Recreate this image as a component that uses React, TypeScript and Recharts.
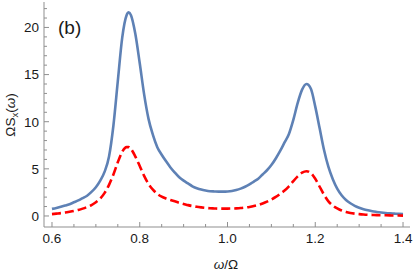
import React from 'react';
import { LineChart, Line, XAxis, YAxis } from 'recharts';

const omega = [
  0.6, 0.61, 0.62, 0.63, 0.64, 0.65, 0.66, 0.67, 0.68, 0.69,
  0.7, 0.71, 0.72, 0.73, 0.74, 0.75, 0.76, 0.77, 0.775, 0.78, 0.79,
  0.8, 0.81, 0.82, 0.83, 0.84, 0.85, 0.86, 0.87, 0.88, 0.89,
  0.9, 0.91, 0.92, 0.93, 0.94, 0.95, 0.96, 0.97, 0.98, 0.99,
  1.0, 1.01, 1.02, 1.03, 1.04, 1.05, 1.06, 1.07, 1.08, 1.09,
  1.1, 1.11, 1.12, 1.13, 1.14, 1.15, 1.16, 1.17, 1.18, 1.19,
  1.2, 1.21, 1.22, 1.23, 1.24, 1.25, 1.26, 1.27, 1.28, 1.29,
  1.3, 1.31, 1.32, 1.33, 1.34, 1.35, 1.36, 1.37, 1.38, 1.39, 1.4,
];

const blueSpectrum = [
  0.75, 0.85, 0.97, 1.1, 1.25, 1.45, 1.65, 1.9, 2.15, 2.55,
  3.05, 3.75, 4.7, 6.3, 9.6, 14.3, 18.9, 21.3, 21.6, 21.3, 19.3,
  16.2, 12.9, 10.3, 8.6, 7.3, 6.5, 5.8, 5.15, 4.6, 4.1,
  3.75, 3.45, 3.15, 2.95, 2.8, 2.7, 2.63, 2.6, 2.58, 2.58,
  2.6, 2.65, 2.75, 2.9, 3.1, 3.35, 3.65, 3.95, 4.4, 4.85,
  5.4, 6.1, 6.9, 7.8, 8.7, 10.2, 12.0, 13.4, 14.0, 13.5,
  11.6, 9.3, 7.0, 5.2, 3.9, 2.9, 2.2, 1.7, 1.35, 1.08,
  0.88, 0.72, 0.6, 0.5, 0.43, 0.37, 0.32, 0.28, 0.25, 0.22, 0.2,
];

const redSpectrum = [
  0.2, 0.25, 0.3, 0.36, 0.44, 0.53, 0.64, 0.78, 0.95, 1.15,
  1.45, 1.85, 2.45, 3.3, 4.4, 5.7, 6.8, 7.3, 7.3, 7.1, 6.3,
  5.3, 4.25, 3.4, 2.8, 2.35, 2.05, 1.85, 1.7, 1.55, 1.4,
  1.28, 1.15, 1.05, 0.97, 0.91, 0.86, 0.82, 0.8, 0.78, 0.78,
  0.78, 0.79, 0.81, 0.84, 0.89, 0.96, 1.05, 1.17, 1.33, 1.52,
  1.75, 2.02, 2.35, 2.7, 3.15, 3.7, 4.2, 4.6, 4.75, 4.55,
  3.95, 3.1, 2.25, 1.55, 1.1, 0.8, 0.58, 0.43, 0.32, 0.25,
  0.2, 0.16, 0.13, 0.11, 0.09, 0.08, 0.07, 0.06, 0.05, 0.05, 0.04,
];

const xTicks = [
  0.6, 0.65, 0.7, 0.75, 0.8, 0.85, 0.9, 0.95, 1.0, 1.05,
  1.1, 1.15, 1.2, 1.25, 1.3, 1.35, 1.4,
];
const yTicks = [
  0, 1, 2, 3, 4, 5, 6, 7, 8, 9, 10, 11, 12, 13, 14, 15, 16, 17, 18, 19, 20, 21, 22,
];

const data = omega.map((w, i) => ({ w, blue: blueSpectrum[i], red: redSpectrum[i] }));

const FRAME = '#8f8f8f';
const TEXT = '#1a1a1a';
const FONT = '"Liberation Sans", Arial, sans-serif';

const isMajorX = (v: number) => Math.abs(v * 5 - Math.round(v * 5)) < 1e-6;
const isMajorY = (v: number) => v % 5 === 0;

const BottomTick = (props: any) => {
  const { x, y, payload } = props;
  const v = payload.value as number;
  const major = isMajorX(v);
  return (
    <g>
      <line x1={x} y1={y} x2={x} y2={y - (major ? 5 : 3)} stroke={FRAME} strokeWidth={1} />
      {major && (
        <text x={x} y={y + 16} textAnchor="middle" fontSize={13.5} fontFamily={FONT} fill={TEXT}>
          {v.toFixed(1)}
        </text>
      )}
    </g>
  );
};

const TopTick = (props: any) => {
  const { x, y, payload } = props;
  const major = isMajorX(payload.value);
  return <line x1={x} y1={y} x2={x} y2={y + (major ? 5 : 3)} stroke={FRAME} strokeWidth={1} />;
};

const LeftTick = (props: any) => {
  const { x, y, payload } = props;
  const v = payload.value as number;
  const major = isMajorY(v);
  return (
    <g>
      <line x1={x} y1={y} x2={x + (major ? 5 : 3)} y2={y} stroke={FRAME} strokeWidth={1} />
      {major && (
        <text x={x - 5} y={y} dy="0.36em" textAnchor="end" fontSize={13.5} fontFamily={FONT} fill={TEXT}>
          {v}
        </text>
      )}
    </g>
  );
};

const RightTick = (props: any) => {
  const { x, y, payload } = props;
  const major = isMajorY(payload.value);
  return <line x1={x} y1={y} x2={x - (major ? 5 : 3)} y2={y} stroke={FRAME} strokeWidth={1} />;
};

const xDomain = [0.5818, 1.4159];
const yDomain = [-1.17, 22.7];

export default function App() {
  return (
    <div style={{ position: 'absolute', left: 0, top: 0, width: 415, height: 273, background: '#fff' }}>
      <LineChart
        width={415}
        height={273}
        data={data}
        margin={{ top: 2, right: 5, bottom: 0, left: 10 }}
      >
        <XAxis
          xAxisId="b"
          dataKey="w"
          type="number"
          domain={xDomain}
          allowDataOverflow
          ticks={xTicks}
          interval={0}
          tickSize={0}
          tickMargin={0}
          tickLine={false}
          height={46}
          axisLine={{ stroke: FRAME }}
          tick={(p: any) => <BottomTick {...p} />}
        />
        <XAxis
          xAxisId="t"
          orientation="top"
          dataKey="w"
          type="number"
          domain={xDomain}
          allowDataOverflow
          ticks={xTicks}
          interval={0}
          tickSize={0}
          tickMargin={0}
          tickLine={false}
          height={0}
          axisLine={{ stroke: FRAME }}
          tick={(p: any) => <TopTick {...p} />}
        />
        <YAxis
          yAxisId="l"
          type="number"
          domain={yDomain}
          allowDataOverflow
          ticks={yTicks}
          interval={0}
          tickSize={0}
          tickMargin={0}
          tickLine={false}
          width={34}
          axisLine={{ stroke: FRAME }}
          tick={(p: any) => <LeftTick {...p} />}
        />
        <YAxis
          yAxisId="r"
          orientation="right"
          type="number"
          domain={yDomain}
          allowDataOverflow
          ticks={yTicks}
          interval={0}
          tickSize={0}
          tickMargin={0}
          tickLine={false}
          width={0}
          axisLine={{ stroke: FRAME }}
          tick={(p: any) => <RightTick {...p} />}
        />
        <Line
          xAxisId="b"
          yAxisId="l"
          type="monotone"
          dataKey="blue"
          stroke="#5E81B5"
          strokeWidth={2.6}
          dot={false}
          isAnimationActive={false}
        />
        <Line
          xAxisId="b"
          yAxisId="l"
          type="monotone"
          dataKey="red"
          stroke="#FF0000"
          strokeWidth={2.6}
          strokeDasharray="9 4"
          dot={false}
          isAnimationActive={false}
        />
        <text x={58} y={34} fontSize={19} fontFamily={FONT} fill={TEXT}>
          (b)
        </text>
        <text
          x={15}
          y={115}
          transform="rotate(-90 15 115)"
          textAnchor="middle"
          fontSize={13.5}
          fontFamily={FONT}
          fill={TEXT}
        >
          ΩS
          <tspan fontSize={9.5} dy={3}>x</tspan>
          <tspan dy={-3}>(</tspan>
          <tspan fontStyle="italic">ω</tspan>
          <tspan>)</tspan>
        </text>
        <text x={226} y={269} textAnchor="middle" fontSize={13.5} fontFamily={FONT} fill={TEXT}>
          <tspan fontStyle="italic">ω</tspan>
          <tspan>/Ω</tspan>
        </text>
      </LineChart>
    </div>
  );
}
